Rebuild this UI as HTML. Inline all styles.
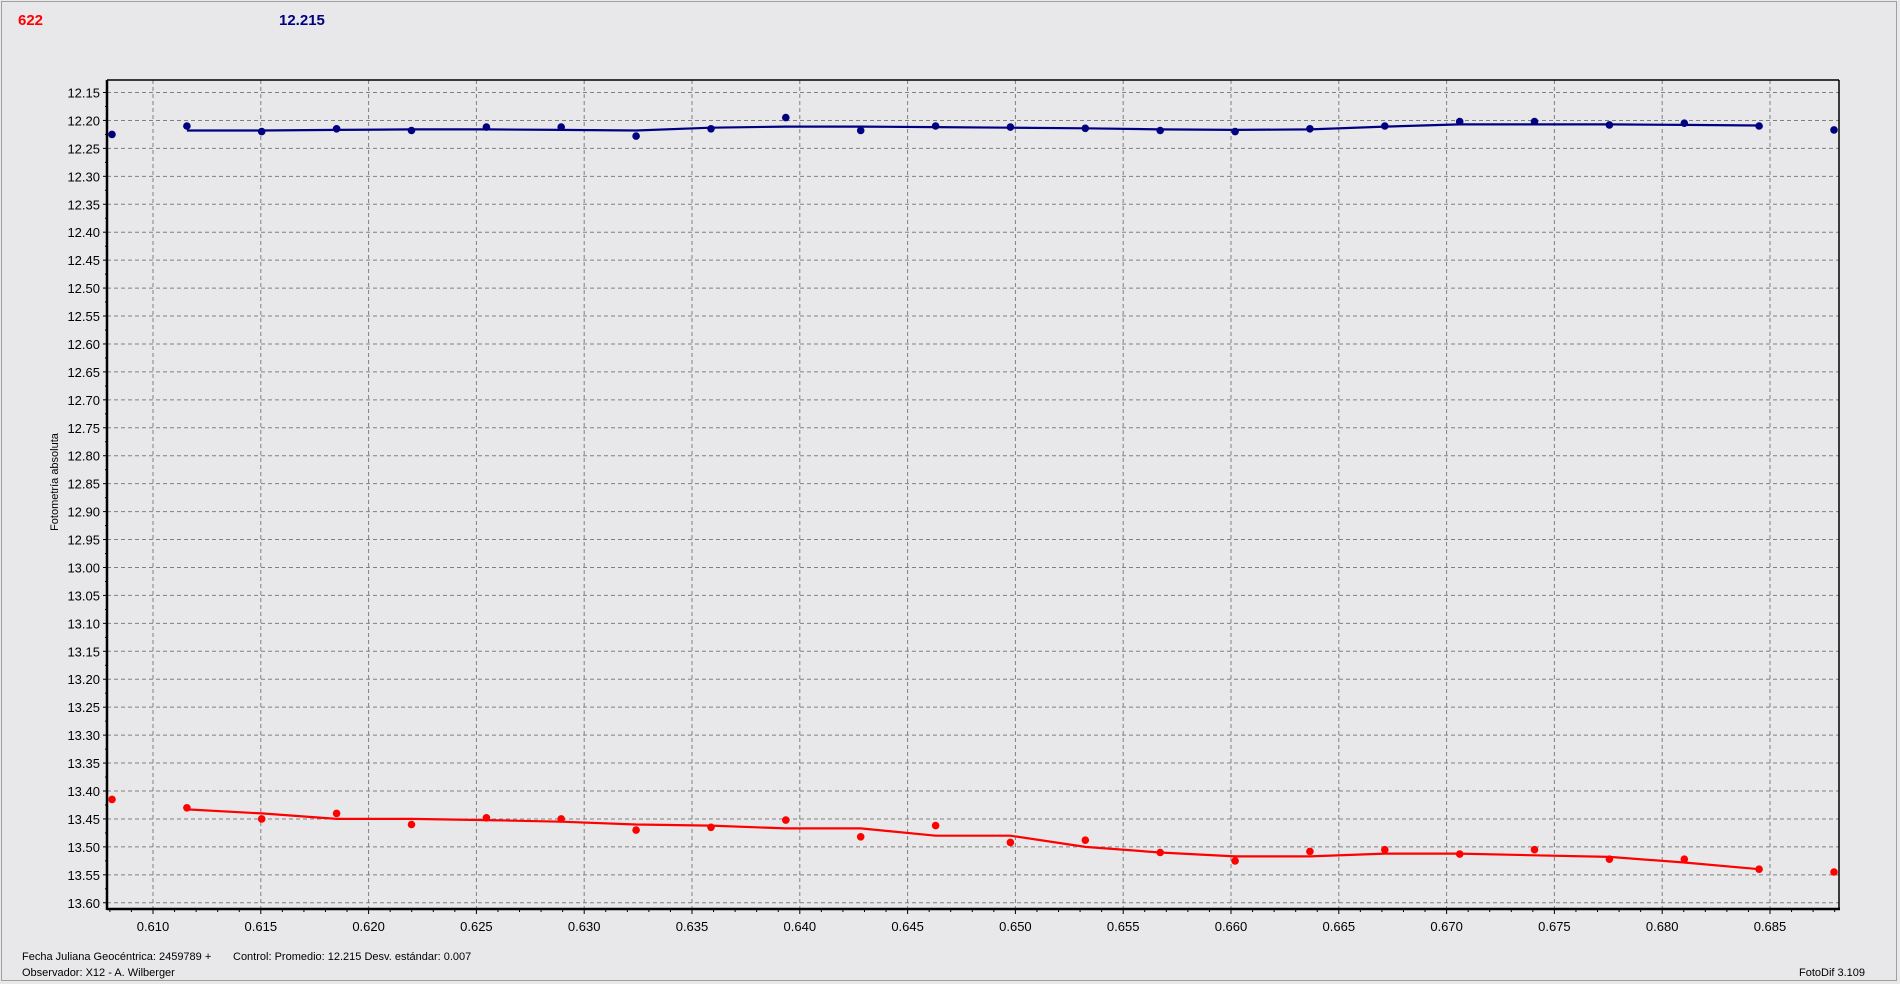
<!DOCTYPE html>
<html><head><meta charset="utf-8"><style>
html,body{margin:0;padding:0;background:#e9e9ea;}
body{width:1900px;height:984px;overflow:hidden;position:relative;font-family:"Liberation Sans",sans-serif;}
</style></head><body>
<svg id="s" width="1900" height="984" xmlns="http://www.w3.org/2000/svg" style="position:absolute;left:0;top:0">
<rect x="0" y="0" width="1900" height="984" fill="#e9e9ea"/>
<rect x="1.5" y="1.5" width="1895" height="979" fill="#e8e8ea" stroke="#a0a0a0" stroke-width="1"/>
<text x="18" y="25" font-size="15" font-weight="bold" fill="#ff0000">622</text>
<text x="279" y="25" font-size="15" font-weight="bold" fill="#000080">12.215</text>
<text transform="translate(58,482) rotate(-90)" font-size="11" text-anchor="middle" fill="#000">Fotometría absoluta</text>
<text x="22" y="960" font-size="11" fill="#000">Fecha Juliana Geocéntrica: 2459789 +</text>
<text x="233" y="960" font-size="11" fill="#000">Control: Promedio: 12.215  Desv. estándar: 0.007</text>
<text x="22" y="976" font-size="11" fill="#000">Observador: X12 - A. Wilberger</text>
<text x="1799" y="976" font-size="11" fill="#000">FotoDif 3.109</text>
<g id="g"></g>
</svg>
<script>
var g=document.getElementById('g'),h='';
var L=107,T=80,R=1839,B=909;
function Y(v){return 92.5+(v-12.15)/0.05*27.94;}
function X(t){return 153+(t-0.610)/0.005*107.8;}
for(var i=0;i<=29;i++){var v=12.15+i*0.05,y=Y(v);
h+='<line x1="'+L+'" x2="'+R+'" y1="'+y+'" y2="'+y+'" stroke="#808080" stroke-dasharray="4,3"/>';
h+='<text x="100" y="'+(y+5)+'" font-size="13" text-anchor="end" fill="#000">'+v.toFixed(2)+'</text>';
h+='<line x1="'+(L-4)+'" x2="'+L+'" y1="'+y+'" y2="'+y+'" stroke="#000"/>';
if(y+14<B-2)h+='<line x1="'+(L-2)+'" x2="'+L+'" y1="'+(y+14)+'" y2="'+(y+14)+'" stroke="#000"/>';}
for(var t=0.608;t<=0.6885;t+=0.001){var x=X(t);if(x<L+2||x>R)continue;
var k=Math.round(t*1000);
if(k%5==0){h+='<line x1="'+x+'" x2="'+x+'" y1="'+T+'" y2="'+B+'" stroke="#808080" stroke-dasharray="4,3"/>';
h+='<line x1="'+x+'" x2="'+x+'" y1="'+B+'" y2="'+(B+5)+'" stroke="#000"/>';
h+='<text x="'+x+'" y="'+(B+22)+'" font-size="13" text-anchor="middle" fill="#000">'+(k/1000).toFixed(3)+'</text>';}
else h+='<line x1="'+x+'" x2="'+x+'" y1="'+B+'" y2="'+(B+3)+'" stroke="#000"/>';}
h+='<line x1="'+L+'" y1="'+T+'" x2="'+R+'" y2="'+T+'" stroke="#000" stroke-width="1.5"/>';
h+='<line x1="'+R+'" y1="'+T+'" x2="'+R+'" y2="'+B+'" stroke="#000" stroke-width="1.5"/>';
h+='<line x1="'+L+'" y1="'+T+'" x2="'+L+'" y2="'+(B+1)+'" stroke="#000" stroke-width="2.5"/>';
h+='<line x1="'+L+'" y1="'+B+'" x2="'+(R+1)+'" y2="'+B+'" stroke="#000" stroke-width="2.5"/>';
function px(i){return 112+i*74.87;}
var bp=[12.225,12.21,12.22,12.215,12.218,12.212,12.212,12.228,12.215,12.195,12.218,12.21,12.212,12.214,12.218,12.22,12.215,12.21,12.202,12.202,12.208,12.205,12.21,12.217];
var bl=[12.218,12.218,12.217,12.216,12.216,12.217,12.218,12.213,12.211,12.211,12.212,12.213,12.214,12.216,12.217,12.216,12.211,12.207,12.207,12.207,12.208,12.209];
var rp=[13.415,13.43,13.45,13.44,13.46,13.448,13.45,13.47,13.465,13.452,13.482,13.462,13.492,13.488,13.51,13.525,13.508,13.505,13.513,13.505,13.522,13.522,13.54,13.545];
var rl=[13.433,13.44,13.45,13.45,13.452,13.455,13.46,13.462,13.467,13.467,13.48,13.48,13.5,13.51,13.517,13.517,13.512,13.512,13.515,13.518,13.528,13.54];
function line(a,c){var s='';for(var i=0;i<a.length;i++)s+=px(i+1).toFixed(1)+','+Y(a[i]).toFixed(1)+' ';
return '<polyline points="'+s+'" fill="none" stroke="'+c+'" stroke-width="2.2"/>';}
h+=line(bl,'#000080');
h+=line(rl,'#ff0000');
function dots(a,c){var s='';for(var i=0;i<a.length;i++){var x=px(i).toFixed(1),y=Y(a[i]).toFixed(1);
s+='<circle cx="'+x+'" cy="'+y+'" r="3.8" fill="'+c+'"/>';}return s;}
h+=dots(bp,'#000080');h+=dots(rp,'#ff0000');
g.innerHTML=h;
</script>
</body></html>
